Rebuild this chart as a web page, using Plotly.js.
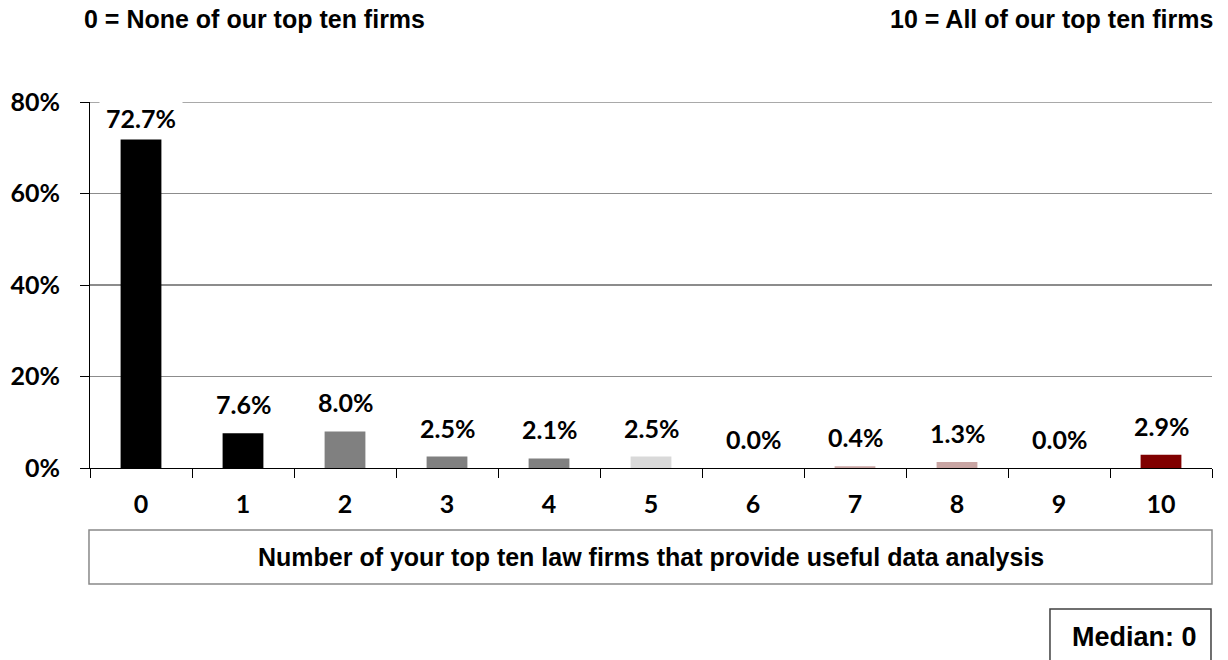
<!DOCTYPE html>
<html>
<head>
<meta charset="utf-8">
<script src="https://cdn.plot.ly/plotly-3.0.1.min.js"></script>
<style>html,body{margin:0;padding:0;background:#fff;}#chart{width:1228px;height:660px;}</style>
</head>
<body>
<div id="chart"></div>
<script>
// ---- data ----
const categories = ["0","1","2","3","4","5","6","7","8","9","10"];
const percentValues = [72.7, 7.6, 8.0, 2.5, 2.1, 2.5, 0.0, 0.4, 1.3, 0.0, 2.9];
const barColors = ["#000000","#000000","#808080","#808080","#808080","#d9d9d9","#bfbfbf","#c9a5a3","#c9a5a3","#bfbfbf","#800000"];
const yTickValues = [0, 20, 40, 60, 80];
const leftNote = "0 = None of our top ten firms";
const rightNote = "10 = All of our top ten firms";
const axisTitle = "Number of your top ten law firms that provide useful data analysis";
const medianText = "Median: 0";

const labelFont = {family: "Lato, Carlito, Calibri, sans-serif", size: 25, color: "#000"};
const arialBold = {family: "'Liberation Sans', Arial, sans-serif", size: 25, color: "#000"};

const yMax = 80;
const plotH = 366;
const pxPerUnit = plotH / yMax;

const labelAnns = categories.map((c, i) => {
  const v = percentValues[i];
  const y = Math.min(v + 29 / pxPerUnit, yMax - 16 / pxPerUnit);
  return {
    x: c, y: y, xref: "x", yref: "y",
    text: "<b>" + v.toFixed(1) + "%</b>",
    showarrow: false, xanchor: "center", yanchor: "middle",
    font: labelFont, bgcolor: "rgba(255,255,255,1)", borderpad: 6
  };
});

const trace = {
  type: "bar",
  x: categories,
  y: percentValues,
  marker: {color: barColors, line: {width: 0}},
  width: 0.4,
  hoverinfo: "skip"
};

const layout = {
  width: 1228, height: 660,
  margin: {l: 90, r: 16, t: 102, b: 192},
  paper_bgcolor: "#fff", plot_bgcolor: "#fff",
  showlegend: false,
  bargap: 0.6,
  xaxis: {
    type: "category",
    tickvals: categories,
    ticktext: categories.map(c => "<b>" + c + "</b>"),
    showline: true, linecolor: "#000", linewidth: 1,
    ticks: "outside", ticklen: 9, tickcolor: "#000", tickwidth: 1,
    tickson: "boundaries",
    tickfont: labelFont,
    ticklabelstandoff: 14,
    showgrid: false, zeroline: false, fixedrange: true
  },
  yaxis: {
    range: [0, yMax],
    tickvals: yTickValues,
    ticktext: yTickValues.map(v => "<b>" + v + "%</b>"),
    showline: true, linecolor: "#000", linewidth: 1,
    ticks: "outside", ticklen: 9, tickcolor: "#000", tickwidth: 1,
    tickfont: labelFont,
    ticklabelstandoff: 15,
    showgrid: true, gridcolor: "#8c8c8c", gridwidth: 1.5,
    zeroline: false, fixedrange: true
  },
  shapes: [
    {type: "line", xref: "paper", yref: "y", x0: 0, x1: 1, y0: yMax, y1: yMax,
     line: {color: "#8c8c8c", width: 1.5}, layer: "below"},
    {type: "rect", xref: "paper", yref: "paper", x0: -0.0009, x1: 1.0, y0: -0.3169, y1: -0.1694,
     line: {color: "#898989", width: 1.5}, fillcolor: "rgba(0,0,0,0)"},
    {type: "rect", xref: "paper", yref: "paper", x0: 0.8556, x1: 0.9991, y0: -0.545, y1: -0.3852,
     line: {color: "#404040", width: 1.5}, fillcolor: "rgba(0,0,0,0)"}
  ],
  annotations: labelAnns.concat([
    {xref: "paper", yref: "paper", x: -0.0071, y: 1.2268, xanchor: "left", yanchor: "middle",
     text: "<b>" + leftNote + "</b>", showarrow: false, font: arialBold},
    {xref: "paper", yref: "paper", x: 1.0027, y: 1.2268, xanchor: "right", yanchor: "middle",
     text: "<b>" + rightNote + "</b>", showarrow: false, font: arialBold},
    {xref: "paper", yref: "paper", x: 0.4996, y: -0.2432, xanchor: "center", yanchor: "middle",
     text: "<b>" + axisTitle + "</b>", showarrow: false, font: arialBold},
    {xref: "paper", yref: "paper", x: 0.9309, y: -0.4617, xanchor: "center", yanchor: "middle",
     text: "<b>" + medianText + "</b>", showarrow: false, font: Object.assign({}, arialBold, {size: 27})}
  ])
};

Plotly.newPlot("chart", [trace], layout, {displayModeBar: false, staticPlot: true});
</script>
</body>
</html>
